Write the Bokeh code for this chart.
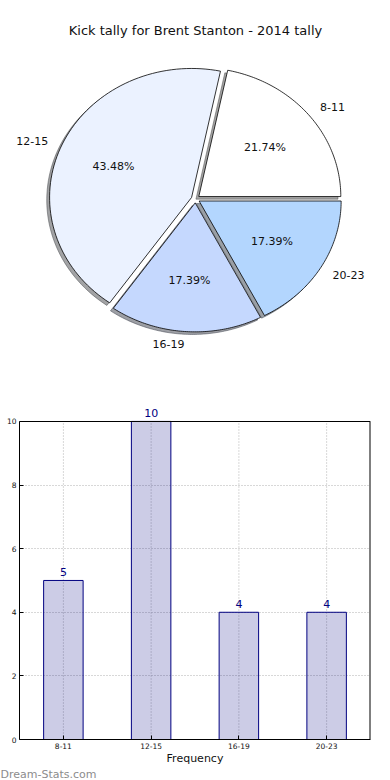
import numpy as np
from bokeh.plotting import figure
from bokeh.models import ColumnDataSource, Range1d, FactorRange, Label, FixedTicker
from bokeh.layouts import column
from bokeh.embed import file_html
from bokeh.resources import INLINE
from bokeh.core.properties import value

# ---------------- data ----------------
categories = ["8-11", "12-15", "16-19", "20-23"]
counts = [5, 10, 4, 4]
pie_colors = ["#ffffff", "#ebf2ff", "#c5d8fe", "#b3d6fe"]
title_text = "Kick tally for Brent Stanton - 2014 tally"
x_label = "Frequency"
y_ticks = [0, 2, 4, 6, 8, 10]
y_max = 10
watermark = "Dream-Stats.com"

FONT = "DejaVu Sans"

# ---------------- pie ----------------
PX_X, PX_Y = 142.0, 129.0          # pixels per unit radius (elliptical pie)
W1, H1 = 390, 398
CX_PX, CY_PX = 195.0, 198.5
EXPLODE = 0.03
SH = 0.02

xr0 = -CX_PX / PX_X
xr1 = (W1 - CX_PX) / PX_X
yr1 = CY_PX / PX_Y
yr0 = -(H1 - CY_PX) / PX_Y

p1 = figure(width=W1, height=H1, x_range=Range1d(xr0, xr1), y_range=Range1d(yr0, yr1),
            output_backend="svg", toolbar_location=None, min_border=0,
            x_axis_location=None, y_axis_location=None)
p1.frame_align = False
p1.grid.visible = False
p1.outline_line_color = None

total = float(sum(counts))
xs, ys, sxs, sys_, sh_cols = [], [], [], [], []
lab_x, lab_y, lab_align, pct_x, pct_y, pct_txt = [], [], [], [], [], []
start = 0.0
for c, col in zip(counts, pie_colors):
    t1 = start
    t2 = start + 2 * np.pi * c / total
    mid = 0.5 * (t1 + t2)
    ox, oy = EXPLODE * np.cos(mid), EXPLODE * np.sin(mid)
    a = np.linspace(t1, t2, 80)
    px = np.concatenate([[ox], ox + np.cos(a), [ox]])
    py = np.concatenate([[oy], oy + np.sin(a), [oy]])
    xs.append(px.tolist()); ys.append(py.tolist())
    sxs.append((px - SH).tolist()); sys_.append((py - SH).tolist())
    r, g, b = int(col[1:3], 16), int(col[3:5], 16), int(col[5:7], 16)
    sh_cols.append("#%02x%02x%02x" % (int(0.3 * r), int(0.3 * g), int(0.3 * b)))
    xt, yt = ox + 1.1 * np.cos(mid), oy + 1.1 * np.sin(mid)
    lab_x.append(xt); lab_y.append(yt); lab_align.append("left" if xt > 0 else "right")
    pct_x.append(ox + 0.6 * np.cos(mid)); pct_y.append(oy + 0.6 * np.sin(mid))
    pct_txt.append("%.2f%%" % (100.0 * c / total))
    start = t2

p1.patches(xs=sxs, ys=sys_, fill_color=sh_cols, fill_alpha=0.5, line_color=sh_cols,
           line_alpha=0.5, line_width=1)
p1.patches(xs=xs, ys=ys, fill_color=pie_colors, line_color="black", line_width=0.8)

src_lab = ColumnDataSource(dict(x=lab_x, y=lab_y, t=categories, al=lab_align))
p1.text(x="x", y="y", text="t", text_align="al", text_baseline="middle", source=src_lab,
        text_font=value(FONT), text_font_size="11px", text_color="#111111")
src_pct = ColumnDataSource(dict(x=pct_x, y=pct_y, t=pct_txt))
p1.text(x="x", y="y", text="t", text_align="center", text_baseline="middle", source=src_pct,
        text_font=value(FONT), text_font_size="11px", text_color="#111111")

p1.add_layout(Label(x=0.0, y=yr1 - 30.0 / PX_Y, text=title_text, text_align="center",
                    text_baseline="middle", text_font=FONT, text_font_size="13px",
                    text_color="#111111"))

# ---------------- bar ----------------
W2, H2 = 390, 369
TOP_PAD_PX = 23.0        # space above the axes box (inside the frame, for the value label)
BOX_H_PX = 319.0
y_top = y_max + TOP_PAD_PX * y_max / BOX_H_PX

p2 = figure(width=W2, height=H2, x_range=FactorRange(factors=categories),
            y_range=Range1d(0, y_top), output_backend="svg", toolbar_location=None,
            min_border_left=19, min_border_right=20, min_border_top=0, min_border_bottom=27)
p2.frame_align = False
p2.outline_line_color = None
p2.xgrid.visible = False

src_bar = ColumnDataSource(dict(cat=categories, cnt=counts, lbl=[str(v) for v in counts],
                                zero=[0] * len(counts), top=[y_max] * len(counts)))

# vertical dotted grid lines (limited to the axes box)
p2.segment(x0="cat", y0="zero", x1="cat", y1="top", source=src_bar,
           line_color="#b0b0b0", line_dash="1 2", line_width=1)

p2.vbar(x="cat", top="cnt", width=0.45, source=src_bar, fill_color="#000080",
        fill_alpha=0.2, line_color="#000080", line_width=1)

p2.text(x="cat", y="cnt", text="lbl", source=src_bar, text_align="center",
        text_baseline="alphabetic", y_offset=-8, text_color="#000080",
        text_font=value(FONT), text_font_size="11px")

# box: top and right edges
p2.hspan(y=[y_max], line_color="black", line_width=1)
p2.segment(x0=[len(categories)], y0=[0], x1=[len(categories)], y1=[y_max],
           line_color="black", line_width=2)

p2.yaxis.ticker = FixedTicker(ticks=y_ticks)
p2.yaxis.bounds = (0, y_max)
for ax in (p2.xaxis, p2.yaxis):
    ax.major_tick_in = 4
    ax.major_tick_out = 0
    ax.minor_tick_line_color = None
    ax.major_label_text_font = FONT
    ax.major_label_text_font_size = "7.5px"
    ax.major_label_text_color = "#111111"
    ax.major_label_standoff = 3
    ax.axis_line_color = "black"
p2.xaxis.axis_label = x_label
p2.xaxis.axis_label_text_font = FONT
p2.xaxis.axis_label_text_font_size = "11px"
p2.xaxis.axis_label_text_font_style = "normal"
p2.xaxis.axis_label_text_color = "#111111"
p2.xaxis.axis_label_standoff = 0

p2.ygrid.grid_line_color = "#b0b0b0"
p2.ygrid.grid_line_dash = "1 2"
p2.ygrid.grid_line_width = 1

# ---------------- watermark strip ----------------
W3, H3 = 390, 13
p3 = figure(width=W3, height=H3, x_range=Range1d(0, W3), y_range=Range1d(0, H3),
            output_backend="svg", toolbar_location=None, min_border=0,
            x_axis_location=None, y_axis_location=None)
p3.frame_align = False
p3.grid.visible = False
p3.outline_line_color = None
p3.text(x=[0], y=[H3 * 0.5], text=[watermark], text_align="left", text_baseline="middle",
        text_font=value(FONT), text_font_size="11px", text_color="#8c8c8c")

page = column(p1, p2, p3)
open("out.html", "w").write(file_html(page, INLINE))
